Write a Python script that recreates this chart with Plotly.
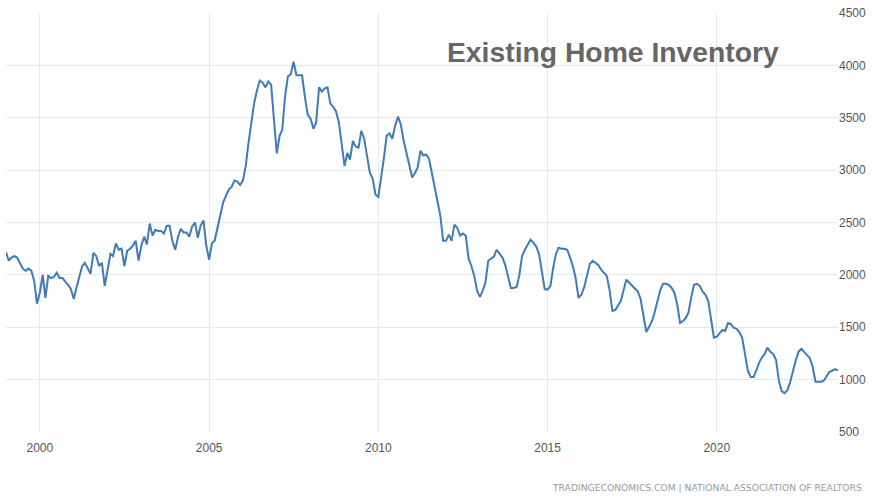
import pandas as pd
import plotly.graph_objects as go

title_text = "Existing Home Inventory"
source_text = "TRADINGECONOMICS.COM | NATIONAL ASSOCIATION OF REALTORS"
x_tick_years = [2000, 2005, 2010, 2015, 2020]
y_tick_values = [500, 1000, 1500, 2000, 2500, 3000, 3500, 4000, 4500]

# Monthly existing home inventory (thousands), Jan 1999 .. Aug 2023
inv_1999 = [2215, 2135, 2165, 2180, 2165, 2115, 2060, 2040, 2060, 2040, 1945, 1725]
inv_2000 = [1830, 2000, 1780, 1990, 1970, 1980, 2020, 1970, 1970, 1935, 1905, 1865]
inv_2001 = [1770, 1885, 1970, 2080, 2115, 2060, 2010, 2210, 2180, 2085, 2115, 1895]
inv_2002 = [2040, 2200, 2180, 2300, 2240, 2250, 2085, 2230, 2250, 2280, 2325, 2135]
inv_2003 = [2280, 2365, 2290, 2490, 2375, 2430, 2420, 2420, 2395, 2470, 2470, 2325]
inv_2004 = [2240, 2365, 2440, 2405, 2405, 2365, 2460, 2500, 2355, 2470, 2520, 2280]
inv_2005 = [2145, 2305, 2325, 2450, 2555, 2690, 2755, 2815, 2840, 2900, 2890, 2860]
inv_2006 = [2900, 3045, 3255, 3475, 3635, 3760, 3855, 3835, 3790, 3845, 3815, 3490]
inv_2007 = [3160, 3330, 3385, 3710, 3895, 3915, 4035, 3905, 3905, 3905, 3695, 3530]
inv_2008 = [3490, 3395, 3455, 3790, 3750, 3780, 3790, 3635, 3605, 3560, 3455, 3245]
inv_2009 = [3040, 3165, 3100, 3280, 3225, 3215, 3375, 3300, 3140, 2975, 2920, 2765]
inv_2010 = [2745, 2920, 3110, 3330, 3350, 3300, 3425, 3510, 3435, 3280, 3165, 3040]
inv_2011 = [2930, 2975, 3025, 3185, 3140, 3150, 3110, 2975, 2840, 2730, 2565, 2325]
inv_2012 = [2325, 2385, 2325, 2480, 2450, 2375, 2395, 2375, 2155, 2085, 1990, 1850]
inv_2013 = [1790, 1850, 1925, 2135, 2155, 2175, 2240, 2200, 2165, 2095, 1990, 1875]
inv_2014 = [1875, 1885, 1990, 2180, 2240, 2290, 2335, 2305, 2270, 2200, 2040, 1865]
inv_2015 = [1860, 1895, 2060, 2200, 2260, 2250, 2250, 2240, 2165, 2085, 1965, 1780]
inv_2016 = [1810, 1885, 1990, 2105, 2135, 2115, 2095, 2050, 2020, 1990, 1850, 1655]
inv_2017 = [1665, 1705, 1750, 1855, 1955, 1925, 1895, 1865, 1840, 1770, 1600, 1455]
inv_2018 = [1505, 1560, 1640, 1760, 1855, 1915, 1915, 1905, 1875, 1830, 1715, 1540]
inv_2019 = [1560, 1590, 1640, 1790, 1905, 1915, 1895, 1840, 1810, 1750, 1580, 1400]
inv_2020 = [1410, 1445, 1475, 1465, 1540, 1530, 1495, 1485, 1455, 1400, 1255, 1085]
inv_2021 = [1025, 1025, 1085, 1160, 1210, 1245, 1305, 1265, 1245, 1190, 990, 890]
inv_2022 = [870, 900, 970, 1085, 1180, 1265, 1295, 1265, 1235, 1205, 1120, 980]
inv_2023 = [980, 980, 990, 1035, 1075, 1085, 1100, 1090]

inventory = (inv_1999 + inv_2000 + inv_2001 + inv_2002 + inv_2003 + inv_2004
             + inv_2005 + inv_2006 + inv_2007 + inv_2008 + inv_2009 + inv_2010
             + inv_2011 + inv_2012 + inv_2013 + inv_2014 + inv_2015 + inv_2016
             + inv_2017 + inv_2018 + inv_2019 + inv_2020 + inv_2021 + inv_2022
             + inv_2023)
dates = pd.date_range("1999-01-01", periods=len(inventory), freq="MS")

sans = "Liberation Sans, Arial, sans-serif"
wide = "DejaVu Sans, Verdana, sans-serif"

fig = go.Figure(
    go.Scatter(
        x=dates, y=inventory, mode="lines",
        line=dict(color="#3f7bb5", width=2),
        hoverinfo="skip",
    )
)

fig.update_layout(
    width=872, height=497,
    margin=dict(l=6, r=32, t=12, b=65),
    plot_bgcolor="white", paper_bgcolor="white",
    showlegend=False,
    font=dict(family=sans, color="#555555"),
)

fig.update_xaxes(
    range=[dates[0], dates[-1]],
    tickvals=[pd.Timestamp(f"{y}-01-01") for y in x_tick_years],
    ticktext=[str(y) for y in x_tick_years],
    showgrid=True, gridcolor="#e8e8e8", gridwidth=1,
    zeroline=False, showline=False,
    ticks="outside", ticklen=5, tickcolor="rgba(0,0,0,0)",
    tickfont=dict(size=12, family=sans, color="#555555"),
)
fig.update_yaxes(
    side="right",
    range=[500, 4500],
    tickvals=y_tick_values,
    ticktext=[str(v) for v in y_tick_values],
    showgrid=True, gridcolor="#e8e8e8", gridwidth=1,
    zeroline=False, showline=False,
    ticks="",
    tickfont=dict(size=12, family=sans, color="#555555"),
)

fig.add_annotation(
    text=f"<b>{title_text}</b>",
    xref="paper", yref="paper",
    x=0.730, y=0.907, xanchor="center", yanchor="middle",
    showarrow=False,
    font=dict(size=28.3, family=sans, color="#666666"),
)
fig.add_annotation(
    text=source_text,
    xref="paper", yref="paper",
    x=1.031, y=-0.133, xanchor="right", yanchor="middle",
    showarrow=False,
    font=dict(size=9.2, family=wide, color="#9a9a9a"),
)

fig.write_html("out.html", post_script="document.body.style.margin='0';",
               config={"displayModeBar": False})
